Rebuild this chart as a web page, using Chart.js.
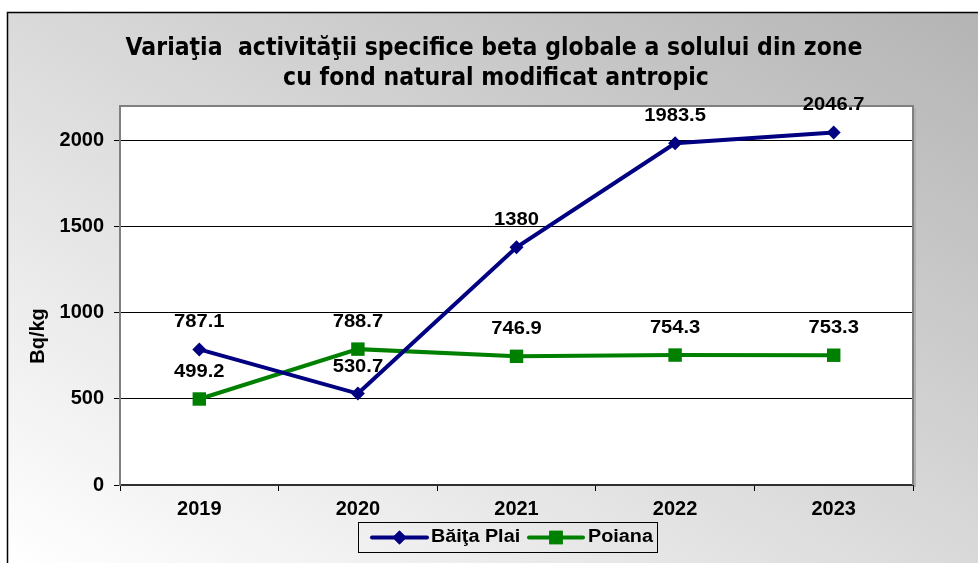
<!DOCTYPE html>
<html>
<head>
<meta charset="utf-8">
<script src="https://cdn.jsdelivr.net/npm/chart.js@4/dist/chart.umd.min.js"></script>
<style>
  html, body { margin: 0; padding: 0; background: #ffffff; }
  #wrap { width: 978px; height: 563px; }
</style>
</head>
<body>
<div id="wrap"><canvas id="c" width="978" height="563"></canvas></div>
<script>
// ---- data ----
const years = ['2019', '2020', '2021', '2022', '2023'];
const baitaPlai = [787.1, 530.7, 1380, 1983.5, 2046.7];
const poiana = [499.2, 788.7, 746.9, 754.3, 753.3];
const seriesNames = ['Băiţa Plai', 'Poiana'];
const yTickValues = [0, 500, 1000, 1500, 2000];
const titleLines = ['Variaţia  activităţii specifice beta globale a solului din zone', 'cu fond natural modificat antropic'];
const yAxisTitle = 'Bq/kg';

const NAVY = '#000080';
const GREEN = '#008000';
const FONT = '"Liberation Sans", Arial, sans-serif';

function stretchedText(ctx, text, x, y, sx, align) {
  ctx.save();
  ctx.translate(x, y);
  ctx.scale(sx, 1);
  ctx.textAlign = align || 'center';
  ctx.fillText(text, 0, 0);
  ctx.restore();
}

const decor = {
  id: 'decor',
  beforeDraw(chart) {
    const ctx = chart.ctx;
    const W = chart.width, H = chart.height;
    ctx.save();
    ctx.fillStyle = '#ffffff';
    ctx.fillRect(0, 0, W, H);
    const g = ctx.createLinearGradient(7, 563, 480, -270);
    g.addColorStop(0, '#ffffff');
    g.addColorStop(1, '#b4b4b4');
    ctx.fillStyle = g;
    ctx.fillRect(7, 12, W - 7, H - 12);
    ctx.strokeStyle = '#000';
    ctx.lineWidth = 1.5;
    ctx.beginPath();
    ctx.moveTo(7.5, H);
    ctx.lineTo(7.5, 12.5);
    ctx.lineTo(W, 12.5);
    ctx.stroke();

    const a = chart.chartArea;
    ctx.fillStyle = '#ffffff';
    ctx.fillRect(a.left, a.top, a.right - a.left, a.bottom - a.top);

    // title
    ctx.fillStyle = '#000';
    ctx.font = 'bold 25px "DejaVu Sans", sans-serif';
    ctx.textBaseline = 'alphabetic';
    const w1 = ctx.measureText(titleLines[0]).width;
    const sx = 737 / w1;
    stretchedText(ctx, titleLines[0], 494, 55, sx, 'center');
    stretchedText(ctx, titleLines[1], 496, 85, sx, 'center');

    // y axis title
    ctx.font = 'bold 20px ' + FONT;
    ctx.save();
    ctx.translate(38, 336);
    ctx.rotate(-Math.PI / 2);
    ctx.textAlign = 'center';
    ctx.textBaseline = 'middle';
    ctx.fillText(yAxisTitle, 0, 0);
    ctx.restore();
    ctx.restore();
  },
  beforeDatasetsDraw(chart) {
    const ctx = chart.ctx;
    const a = chart.chartArea;
    ctx.save();
    ctx.strokeStyle = '#b0b0b0';
    ctx.lineWidth = 2;
    ctx.beginPath();
    ctx.moveTo(a.right + 2, a.top + 2);
    ctx.lineTo(a.right + 2, a.bottom + 2);
    ctx.stroke();
    ctx.strokeStyle = '#808080';
    ctx.lineWidth = 2;
    ctx.beginPath();
    ctx.moveTo(a.left, a.top);
    ctx.lineTo(a.right, a.top);
    ctx.lineTo(a.right, a.bottom);
    ctx.stroke();
    ctx.restore();
  },
  afterDatasetsDraw(chart) {
    const ctx = chart.ctx;
    ctx.save();
    ctx.fillStyle = '#000';
    ctx.font = 'bold 18px ' + FONT;
    ctx.textBaseline = 'alphabetic';
    chart.data.datasets.forEach((ds, i) => {
      const meta = chart.getDatasetMeta(i);
      meta.data.forEach((pt, j) => {
        stretchedText(ctx, String(ds.data[j]), pt.x, pt.y - 22, 1.12, 'center');
      });
    });
    ctx.restore();
  },
  afterDraw(chart) {
    const ctx = chart.ctx;
    ctx.save();
    ctx.strokeStyle = '#000';
    ctx.lineWidth = 1;
    ctx.strokeRect(358.5, 522.5, 299, 30);
    const ly = 537.5;
    const items = [
      { color: NAVY, x0: 372, x1: 427, style: 'rectRot', r: 7, tx: 431, text: seriesNames[0] },
      { color: GREEN, x0: 529, x1: 583, style: 'rect', r: 9.5, tx: 588, text: seriesNames[1] }
    ];
    items.forEach(it => {
      ctx.strokeStyle = it.color;
      ctx.lineWidth = 4;
      ctx.lineCap = 'round';
      ctx.beginPath();
      ctx.moveTo(it.x0, ly);
      ctx.lineTo(it.x1, ly);
      ctx.stroke();
      ctx.fillStyle = it.color;
      Chart.helpers.drawPoint(ctx, { pointStyle: it.style, radius: it.r, borderWidth: 0, rotation: 0 }, (it.x0 + it.x1) / 2, ly);
      ctx.fill();
      ctx.fillStyle = '#000';
      ctx.font = 'bold 18px ' + FONT;
      ctx.textBaseline = 'middle';
      stretchedText(ctx, it.text, it.tx, ly, 1.1, 'left');
    });
    ctx.restore();
  }
};

new Chart(document.getElementById('c'), {
  type: 'line',
  data: {
    labels: years,
    datasets: [
      {
        label: seriesNames[0],
        data: baitaPlai,
        borderColor: NAVY,
        backgroundColor: NAVY,
        borderWidth: 4,
        pointStyle: 'rectRot',
        pointRadius: 7,
        pointBorderWidth: 0,
        tension: 0,
        clip: false
      },
      {
        label: seriesNames[1],
        data: poiana,
        borderColor: GREEN,
        backgroundColor: GREEN,
        borderWidth: 4,
        pointStyle: 'rect',
        pointRadius: 9.5,
        pointBorderWidth: 0,
        tension: 0,
        clip: false
      }
    ]
  },
  options: {
    responsive: false,
    animation: false,
    devicePixelRatio: 1,
    layout: { padding: { left: 0, right: 65, top: 106, bottom: 0 } },
    plugins: {
      legend: { display: false },
      title: { display: false },
      tooltip: { enabled: false }
    },
    scales: {
      x: {
        type: 'category',
        offset: true,
        afterFit(s) { s.height = 78; },
        grid: { offset: true, drawOnChartArea: false, tickLength: 6, color: '#000', lineWidth: 1 },
        border: { display: true, color: '#303030', width: 2 },
        ticks: { color: '#000', font: { family: FONT, weight: 'bold', size: 20 }, padding: 6 }
      },
      y: {
        min: 0,
        max: 2200,
        afterFit(s) { s.width = 120; },
        afterBuildTicks(s) { s.ticks = yTickValues.map(v => ({ value: v })); },
        grid: { color: '#000', lineWidth: 1, tickLength: 6 },
        border: { display: true, color: '#808080', width: 2 },
        ticks: {
          color: '#000',
          font: { family: FONT, weight: 'bold', size: 20 },
          padding: 10,
          callback: (v) => String(v)
        }
      }
    }
  },
  plugins: [decor]
});
</script>
</body>
</html>
